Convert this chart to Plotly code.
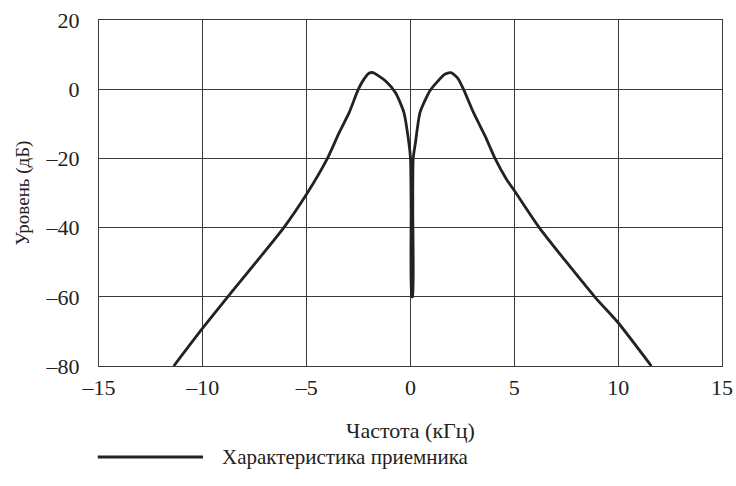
import plotly.graph_objects as go

# Data
freq_khz = [-11.4, -10.0, -8.8, -6.1, -5.0, -4.0, -3.43, -2.95, -2.51, -2.24,
            -2.0, -1.81, -1.52, -1.2, -0.72, -0.32, -0.08, 0.0, 0.03, 0.06,
            0.1, 0.11, 0.13, 0.24, 0.46, 0.93, 1.33, 1.65, 1.94, 2.16,
            2.31, 2.55, 3.03, 3.59, 4.07, 4.62, 5.0, 6.2, 8.87, 10.0, 11.6]
level_db = [-80.0, -69.0, -60.0, -40.0, -30.3, -20.0, -12.5, -6.7, 0.0, 2.9,
            4.6, 4.8, 3.8, 2.4, -1.0, -6.7, -15.4, -20.0, -35.0, -60.0,
            -60.0, -35.0, -20.0, -15.4, -6.7, -0.5, 2.4, 4.3, 4.8, 3.9,
            2.9, 0.0, -6.7, -13.5, -20.0, -26.0, -29.3, -40.0, -60.0, -67.5, -80.0]

x_tickvals = [-15, -10, -5, 0, 5, 10, 15]
x_ticktext = ["–15", "–10", "–5", "0", "5", "10", "15"]
y_tickvals = [-80, -60, -40, -20, 0, 20]
y_ticktext = ["–80", "–60", "–40", "–20", "0", "20"]

series_name = "Характеристика приемника"
x_title = "Частота (кГц)"
y_title = "Уровень (дБ)"

font_family = "Liberation Serif"
grid_color = "#3a3a3a"
line_color = "#222222"

fig = go.Figure()
fig.add_trace(go.Scatter(
    x=freq_khz, y=level_db, mode="lines", name=series_name,
    line=dict(color=line_color, width=2.8, shape="spline", smoothing=0.6),
    showlegend=False,
))

fig.update_layout(
    width=736, height=486,
    margin=dict(l=99, r=14, t=20, b=120, autoexpand=False),
    paper_bgcolor="white", plot_bgcolor="white",
    font=dict(family=font_family, size=22, color="#222222"),
    showlegend=False,
)
fig.update_xaxes(
    range=[-15, 15], tickvals=x_tickvals, ticktext=x_ticktext,
    showgrid=True, gridcolor=grid_color, gridwidth=1.4,
    showline=True, linecolor=grid_color, linewidth=1.4, mirror=True,
    zeroline=False, ticks="outside", ticklen=1, tickcolor="rgba(0,0,0,0)",
    automargin=False, ticklabeloverflow="allow",
    title=dict(text=x_title, font=dict(size=22), standoff=24),
    tickfont=dict(size=22),
)
fig.update_yaxes(
    range=[-80, 20], tickvals=y_tickvals, ticktext=y_ticktext,
    showgrid=True, gridcolor=grid_color, gridwidth=1.4,
    showline=True, linecolor=grid_color, linewidth=1.4, mirror=True,
    zeroline=False, ticks="outside", ticklen=14, tickcolor="rgba(0,0,0,0)",
    automargin=False, ticklabeloverflow="allow",
    title=dict(text=y_title, font=dict(size=19, color="#222222"), standoff=10),
    tickfont=dict(size=22),
)

# Legend drawn below the plot
fig.add_shape(type="line", xref="paper", yref="paper",
              x0=-0.002, x1=0.167, y0=-0.263, y1=-0.263,
              line=dict(color=line_color, width=2.8))
fig.add_annotation(text=series_name, xref="paper", yref="paper",
                   x=0.194, y=-0.263, xanchor="left", yanchor="middle",
                   showarrow=False, font=dict(size=21, family=font_family))

fig.write_html(
    "out.html",
    config={"displayModeBar": False},
    post_script="document.body.style.margin='0';document.body.style.overflow='hidden';",
)
